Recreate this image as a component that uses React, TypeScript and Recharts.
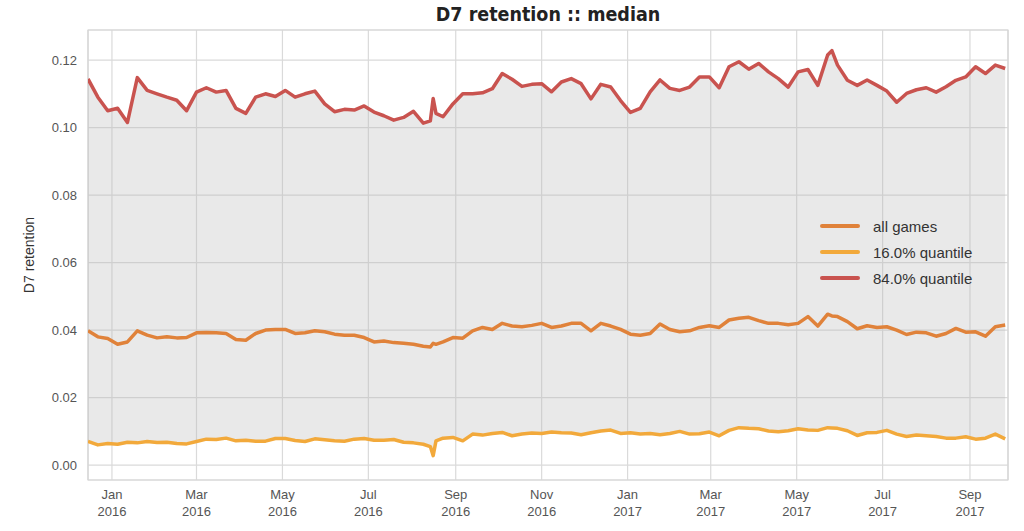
import React from 'react';
import { ComposedChart, Line, Area, XAxis, YAxis, CartesianGrid, ReferenceArea, Legend } from 'recharts';

const dates = [
  '2015-12-15','2015-12-22','2015-12-29','2016-01-05','2016-01-12','2016-01-19','2016-01-26','2016-02-02','2016-02-09','2016-02-16',
  '2016-02-23','2016-03-01','2016-03-08','2016-03-15','2016-03-22','2016-03-29','2016-04-05','2016-04-12','2016-04-19','2016-04-26',
  '2016-05-03','2016-05-10','2016-05-17','2016-05-24','2016-05-31','2016-06-07','2016-06-14','2016-06-21','2016-06-28','2016-07-05',
  '2016-07-12','2016-07-19','2016-07-26','2016-08-02','2016-08-09','2016-08-14','2016-08-16','2016-08-18','2016-08-23','2016-08-30',
  '2016-09-06','2016-09-13','2016-09-20','2016-09-27','2016-10-04','2016-10-11','2016-10-18','2016-10-25','2016-11-01','2016-11-08',
  '2016-11-15','2016-11-22','2016-11-29','2016-12-06','2016-12-13','2016-12-20','2016-12-27','2017-01-03','2017-01-10','2017-01-17',
  '2017-01-24','2017-01-31','2017-02-07','2017-02-14','2017-02-21','2017-02-28','2017-03-07','2017-03-14','2017-03-21','2017-03-28',
  '2017-04-04','2017-04-11','2017-04-18','2017-04-25','2017-05-02','2017-05-09','2017-05-16','2017-05-23','2017-05-26','2017-05-30',
  '2017-06-06','2017-06-13','2017-06-20','2017-06-27','2017-07-04','2017-07-11','2017-07-18','2017-07-25','2017-08-01','2017-08-08',
  '2017-08-15','2017-08-22','2017-08-29','2017-09-05','2017-09-12','2017-09-19','2017-09-26',
];

const allGames = [
  0.0398, 0.0380, 0.0375, 0.0358, 0.0365, 0.0398, 0.0385, 0.0377, 0.0380, 0.0377,
  0.0378, 0.0392, 0.0393, 0.0392, 0.0390, 0.0372, 0.0370, 0.0390, 0.0400, 0.0402,
  0.0402, 0.0390, 0.0392, 0.0398, 0.0395, 0.0388, 0.0385, 0.0385, 0.0378, 0.0365,
  0.0368, 0.0363, 0.0361, 0.0358, 0.0352, 0.0350, 0.0361, 0.0358, 0.0365, 0.0378,
  0.0376, 0.0398, 0.0408, 0.0402, 0.0420, 0.0412, 0.0410, 0.0414, 0.0420, 0.0408,
  0.0412, 0.0420, 0.0420, 0.0398, 0.0420, 0.0412, 0.0402, 0.0388, 0.0385, 0.0390,
  0.0418, 0.0402, 0.0395, 0.0398, 0.0408, 0.0413, 0.0408, 0.0430, 0.0435, 0.0438,
  0.0428, 0.0420, 0.0420, 0.0416, 0.0420, 0.0440, 0.0412, 0.0447, 0.0442, 0.0440,
  0.0425, 0.0404, 0.0413, 0.0408, 0.0410, 0.0400, 0.0387, 0.0394, 0.0392, 0.0382,
  0.0390, 0.0405, 0.0394, 0.0395, 0.0382, 0.0410, 0.0415,
];

const quantile16 = [
  0.0070, 0.0060, 0.0064, 0.0062, 0.0068, 0.0066, 0.0070, 0.0067, 0.0068, 0.0064,
  0.0063, 0.0070, 0.0077, 0.0076, 0.0080, 0.0072, 0.0074, 0.0071, 0.0071, 0.0079,
  0.0079, 0.0073, 0.0070, 0.0078, 0.0075, 0.0072, 0.0071, 0.0077, 0.0079, 0.0074,
  0.0074, 0.0076, 0.0068, 0.0066, 0.0062, 0.0055, 0.0028, 0.0072, 0.0080, 0.0082,
  0.0072, 0.0092, 0.0089, 0.0094, 0.0097, 0.0087, 0.0092, 0.0095, 0.0094, 0.0098,
  0.0096, 0.0095, 0.0090, 0.0096, 0.0101, 0.0104, 0.0094, 0.0096, 0.0092, 0.0094,
  0.0090, 0.0094, 0.0100, 0.0092, 0.0093, 0.0098, 0.0087, 0.0103, 0.0111, 0.0109,
  0.0108, 0.0101, 0.0099, 0.0102, 0.0108, 0.0104, 0.0103, 0.0111, 0.0110, 0.0109,
  0.0102, 0.0088, 0.0096, 0.0097, 0.0103, 0.0092, 0.0085, 0.0089, 0.0087, 0.0085,
  0.0080, 0.0080, 0.0084, 0.0077, 0.0080, 0.0092, 0.0078,
];

const quantile84 = [
  0.1144, 0.1090, 0.1050, 0.1057, 0.1015, 0.1148, 0.1110, 0.1100, 0.1090, 0.1081,
  0.1050, 0.1105, 0.1118, 0.1105, 0.1110, 0.1057, 0.1042, 0.1090, 0.1100, 0.1092,
  0.1110, 0.1090, 0.1100, 0.1108, 0.1070, 0.1047, 0.1054, 0.1052, 0.1064, 0.1046,
  0.1035, 0.1022, 0.1030, 0.1048, 0.1013, 0.1020, 0.1086, 0.1042, 0.1032, 0.1070,
  0.1100, 0.1100, 0.1103, 0.1115, 0.1160, 0.1143, 0.1122, 0.1128, 0.1130, 0.1106,
  0.1135, 0.1145, 0.1130, 0.1085, 0.1128, 0.1120, 0.1080, 0.1045, 0.1057, 0.1106,
  0.1141, 0.1116, 0.1110, 0.1120, 0.1150, 0.1150, 0.1118, 0.1180, 0.1195, 0.1173,
  0.1190, 0.1165, 0.1145, 0.1120, 0.1165, 0.1172, 0.1125, 0.1215, 0.1228, 0.1185,
  0.1140, 0.1125, 0.1141, 0.1125, 0.1108, 0.1075, 0.1101, 0.1112, 0.1118, 0.1105,
  0.1121, 0.1140, 0.1150, 0.1180, 0.1160, 0.1185, 0.1175,
];

const tickDates = ['2016-01-01','2016-03-01','2016-05-01','2016-07-01','2016-09-01','2016-11-01','2017-01-01','2017-03-01','2017-05-01','2017-07-01','2017-09-01'];
const tickMonths = ['Jan','Mar','May','Jul','Sep','Nov','Jan','Mar','May','Jul','Sep'];
const tickYears = ['2016','2016','2016','2016','2016','2016','2017','2017','2017','2017','2017'];
const yTicks = [0, 0.02, 0.04, 0.06, 0.08, 0.1, 0.12];

const seriesNames = ['all games', '16.0% quantile', '84.0% quantile'];
const seriesColors = ['#e0823a', '#f2a93b', '#c9534f'];

const xMin = Date.parse('2015-12-15');
const xMax = Date.parse('2017-09-28');
const yMin = -0.0044;
const yMax = 0.1289;

const data = dates.map((d, i) => ({
  t: Date.parse(d),
  mid: allGames[i],
  lo: quantile16[i],
  hi: quantile84[i],
  band: [quantile16[i], quantile84[i]],
}));

const tickTimes = tickDates.map((d) => Date.parse(d));
const FONT = '"Liberation Sans", Arial, sans-serif';

const XTick = (props: any) => {
  const { x, y, payload } = props;
  const idx = tickTimes.indexOf(payload.value);
  return (
    <text x={x} y={y} textAnchor="middle" fill="#555" fontSize={13} fontFamily={FONT}>
      <tspan x={x} dy={17}>{tickMonths[idx]}</tspan>
      <tspan x={x} dy={17}>{tickYears[idx]}</tspan>
    </text>
  );
};

const renderLegend = () => (
  <div style={{ fontFamily: FONT, fontSize: 15, color: '#333' }}>
    {seriesNames.map((n, i) => (
      <div key={n} style={{ display: 'flex', alignItems: 'center', height: 26 }}>
        <div style={{ width: 40, height: 3.5, borderRadius: 2, background: seriesColors[i], marginRight: 13 }} />
        <span>{n}</span>
      </div>
    ))}
  </div>
);

export default function App() {
  return (
    <div style={{ position: 'absolute', left: 0, top: 0, width: 1024, height: 531, background: '#fff' }}>
      <div
        style={{
          position: 'absolute', left: 88, width: 920, top: 3, textAlign: 'center',
          fontFamily: '"Liberation Sans Narrow", "DejaVu Sans Condensed", Arial, sans-serif',
          fontWeight: 'bold', fontSize: 19.5, color: '#222', zIndex: 2,
        }}
      >
        D7 retention :: median
      </div>
      <ComposedChart width={1024} height={531} data={data} margin={{ top: 30, right: 16, bottom: 0, left: 0 }}>
        <CartesianGrid stroke="#dadada" strokeWidth={1.2} />
        <XAxis
          dataKey="t"
          type="number"
          domain={[xMin, xMax]}
          allowDataOverflow
          ticks={tickTimes}
          interval={0}
          tick={<XTick />}
          tickLine={false}
          axisLine={false}
          tickSize={0}
          height={51}
        />
        <YAxis
          type="number"
          domain={[yMin, yMax]}
          allowDataOverflow
          ticks={yTicks}
          interval={0}
          tickFormatter={(v: number) => v.toFixed(2)}
          tick={{ fill: '#555', fontSize: 13, fontFamily: FONT }}
          tickLine={false}
          axisLine={false}
          tickSize={0}
          tickMargin={11}
          width={88}
          label={{
            content: () => (
              <text x={29} y={255} transform="rotate(-90 29 255)" textAnchor="middle" dominantBaseline="central" fill="#333" fontSize={14} fontFamily={FONT}>
                D7 retention
              </text>
            ),
          }}
        />
        <ReferenceArea x1={xMin} x2={xMax} y1={yMin} y2={yMax} fill="none" fillOpacity={0} stroke="#d6d6d6" strokeWidth={1.2} ifOverflow="visible" />
        <Area dataKey="band" type="linear" stroke="none" fill="#b5b5b5" fillOpacity={0.3} isAnimationActive={false} legendType="none" activeDot={false} />
        <Line dataKey="mid" name={seriesNames[0]} type="linear" stroke={seriesColors[0]} strokeWidth={3.5} strokeLinejoin="round" dot={false} isAnimationActive={false} />
        <Line dataKey="lo" name={seriesNames[1]} type="linear" stroke={seriesColors[1]} strokeWidth={3.5} strokeLinejoin="round" dot={false} isAnimationActive={false} />
        <Line dataKey="hi" name={seriesNames[2]} type="linear" stroke={seriesColors[2]} strokeWidth={3.5} strokeLinejoin="round" dot={false} isAnimationActive={false} />
        <Legend layout="horizontal" verticalAlign="middle" align="center" content={renderLegend} wrapperStyle={{ left: 820, top: 213, width: 200 }} />
      </ComposedChart>
    </div>
  );
}
